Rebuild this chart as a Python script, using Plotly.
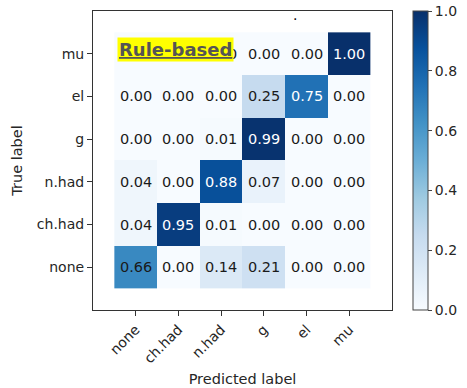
import plotly.graph_objects as go

# Class labels (top row of the matrix first)
true_labels = ["mu", "el", "g", "n.had", "ch.had", "none"]
pred_labels = ["none", "ch.had", "n.had", "g", "el", "mu"]

# Normalised confusion matrix, rows follow true_labels, columns follow pred_labels
cm_mu = [0.00, 0.00, 0.00, 0.00, 0.00, 1.00]
cm_el = [0.00, 0.00, 0.00, 0.25, 0.75, 0.00]
cm_g = [0.00, 0.00, 0.01, 0.99, 0.00, 0.00]
cm_nhad = [0.04, 0.00, 0.88, 0.07, 0.00, 0.00]
cm_chhad = [0.04, 0.95, 0.01, 0.00, 0.00, 0.00]
cm_none = [0.66, 0.00, 0.14, 0.21, 0.00, 0.00]

rows_top_down = [cm_mu, cm_el, cm_g, cm_nhad, cm_chhad, cm_none]
z = rows_top_down[::-1]          # y = 0 is the bottom row ("none")
y_labels = true_labels[::-1]

blues = ["#f7fbff", "#deebf7", "#c6dbef", "#9ecae1", "#6baed6",
         "#4292c6", "#2171b5", "#08519c", "#08306b"]
colorscale = [[i / (len(blues) - 1), c] for i, c in enumerate(blues)]

FONT = "DejaVu Sans"
TXT = "#262626"

fig = go.Figure(go.Heatmap(
    z=z,
    x=list(range(len(pred_labels))),
    y=list(range(len(y_labels))),
    zmin=0, zmax=1,
    colorscale=colorscale,
    colorbar=dict(
        x=1.07, xanchor="left", xref="paper", xpad=0, ypad=0,
        y=0.5, yanchor="middle", len=1.0, lenmode="fraction",
        thickness=15, outlinecolor="#444", outlinewidth=1,
        tickvals=[0, 0.2, 0.4, 0.6, 0.8, 1.0], tickformat=".1f",
        ticks="outside", ticklen=4, tickcolor="#444",
        tickfont=dict(family=FONT, size=14, color=TXT),
    ),
    hoverinfo="skip",
))

# Value labels in every cell
annotations = []
for yi, row in enumerate(z):
    for xi, v in enumerate(row):
        annotations.append(dict(
            x=xi, y=yi, xref="x", yref="y", text=f"{v:.2f}", showarrow=False,
            font=dict(family=FONT, size=14.5, color="white" if v > 0.7 else "#1a1a1a"),
        ))

# Method tag
annotations.append(dict(
    x=0.94, y=5.09, xref="x", yref="y", showarrow=False,
    text="<b><u>Rule-based</u></b>",
    font=dict(family=FONT, size=18, color="#555555"),
    bgcolor="#ffff00", borderpad=1,
))

# Title
annotations.append(dict(
    x=0.689, y=1.02, xref="paper", yref="paper", showarrow=False,
    text=".", font=dict(family=FONT, size=14, color="#000"),
))

fig.update_layout(
    width=467, height=388,
    margin=dict(l=93, r=75, t=11, b=78, autoexpand=False),
    paper_bgcolor="white", plot_bgcolor="white",
    font=dict(family=FONT, size=14, color=TXT),
    annotations=annotations,
    xaxis=dict(
        range=[-1, 6], tickvals=list(range(len(pred_labels))), ticktext=pred_labels,
        tickangle=-45, ticks="outside", ticklen=5, tickcolor="#333",
        showline=True, linecolor="#333", linewidth=1, mirror=True,
        showgrid=False, zeroline=False, automargin=False,
        tickfont=dict(family=FONT, size=14, color=TXT),
        title=dict(text="Predicted label", font=dict(family=FONT, size=14.5, color=TXT), standoff=8),
    ),
    yaxis=dict(
        range=[-1, 6], tickvals=list(range(len(y_labels))), ticktext=y_labels,
        ticks="outside", ticklen=5, tickcolor="#333",
        showline=True, linecolor="#333", linewidth=1, mirror=True,
        showgrid=False, zeroline=False, automargin=False,
        tickfont=dict(family=FONT, size=14, color=TXT),
        title=dict(text="True label", font=dict(family=FONT, size=14.5, color=TXT), standoff=10),
    ),
)

fig.write_html("out.html")
